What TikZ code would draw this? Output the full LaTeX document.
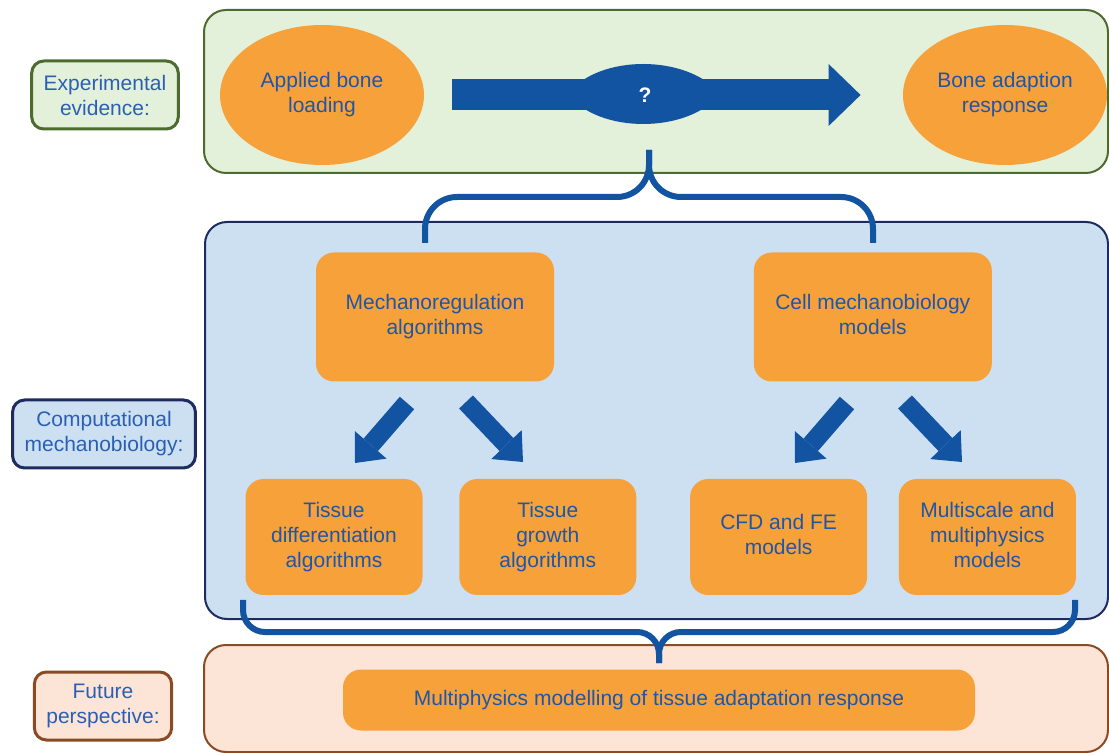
\documentclass[tikz,border=0pt]{standalone}
\usepackage{fontspec}
\setmainfont{Liberation Sans}
\usetikzlibrary{shapes.geometric, positioning, arrows.meta}
\definecolor{boxorange}{HTML}{F7A13A}
\definecolor{boxtext}{HTML}{1F56A8}
\definecolor{tagtext}{HTML}{2B5FB3}
\definecolor{arrowblue}{HTML}{1354A2}
\definecolor{expfill}{HTML}{E3F0DA}
\definecolor{expline}{HTML}{4D6B2F}
\definecolor{compfill}{HTML}{CCE0F2}
\definecolor{compline}{HTML}{1E2B5E}
\definecolor{futfill}{HTML}{FCE5D6}
\definecolor{futline}{HTML}{8A4B24}

\begin{document}
\begin{tikzpicture}[x = 0.5pt, y = -0.5pt,
        every node/.style = {font = \fontsize{10.5}{12.5}\selectfont, text = boxtext, align = center, inner sep = 0pt},
        blob/.style = {ellipse, fill = boxorange, minimum width = 102pt, minimum height = 70pt},
        algbox/.style = {rectangle, rounded corners = 9pt, fill = boxorange, minimum width = 119pt, minimum height = 64.5pt},
        subbox/.style = {rectangle, rounded corners = 9pt, fill = boxorange, minimum width = 88.5pt, minimum height = 58pt},
        tag/.style = {rectangle, rounded corners = 6pt, line width = 1.5pt, text = tagtext, inner xsep = 6pt, minimum height = 34pt},
        panel/.style = {rounded corners = 11pt, line width = 1pt},
        bigarrow/.style = {draw = arrowblue, line width = 15.5pt, -{Triangle[length = 16pt, width = 31pt, line width = 0pt]}},
        tiltarrow/.style = {draw = arrowblue, line width = 9.5pt, -{Triangle[length = 12pt, width = 21pt, line width = 0pt]}},
        curly/.style = {draw = arrowblue, line width = 3pt}]
        \useasboundingbox (0,0) rectangle (1109,753) ; %
        %
        \draw[panel, fill = expfill, draw = expline] (204,10) rectangle (1108,173) ; %
        \draw[panel, fill = compfill, draw = compline] (205,222) rectangle (1108,619) ; %
        \draw[panel, fill = futfill, draw = futline] (204,645) rectangle (1108,752) ; %
        %
        \node[tag, fill = expfill, draw = expline] (exp_tag) at (105,95) {Experimental\\evidence:} ; %
        \node[tag, fill = compfill, draw = compline] (comp_tag) at (104,434) {Computational\\mechanobiology:} ; %
        \node[tag, fill = futfill, draw = futline] (fut_tag) at (103,706) {Future\\perspective:} ; %
        %
        \node[blob] (load) at (322,95) {Applied bone\\loading} ; %
        \node[blob] (resp) at (1005,95) {Bone adaption\\response} ; %
        \node[algbox] (mech) at (435,317) {Mechanoregulation\\algorithms} ; %
        \node[algbox, right = 99.5pt of mech] (cell) {Cell mechanobiology\\models\vphantom{g}} ; %
        \node[subbox] (tdiff) at (334,537) {Tissue\\differentiation\\algorithms} ; %
        \node[subbox, right = 18pt of tdiff] (tgrow) {Tissue\\growth\\algorithms} ; %
        \node[subbox, right = 26.5pt of tgrow] (cfd) {CFD and FE\\models\vphantom{g}} ; %
        \node[subbox, right = 15.5pt of cfd] (multi) {Multiscale and\\multiphysics\\models\vphantom{g}} ; %
        \node[rectangle, rounded corners = 9pt, fill = boxorange, minimum width = 316pt, minimum height = 30.5pt] (mpmod) at (659,700) {Multiphysics modelling of tissue adaptation response} ; %
        %
        \draw[bigarrow, shorten < = 14pt, shorten > = 21pt] (load.east) -- (resp.west) ; %
        \fill[arrowblue] (568,94) .. controls (598,54) and (688,54) .. (720,94) .. controls (688,134) and (598,134) .. (568,94) -- cycle ; %
        \node[text = white, font = \fontsize{10.5}{12.5}\selectfont\bfseries] (q) at (645,95) {?} ; %
        %
        \coordinate (m_l0) at (407,403) ; %
        \coordinate (m_l1) at (355,463) ; %
        \coordinate (m_r0) at (466,402) ; %
        \coordinate (m_r1) at (523,462) ; %
        \coordinate (c_l0) at (847,403) ; %
        \coordinate (c_l1) at (795,463) ; %
        \coordinate (c_r0) at (905,402) ; %
        \coordinate (c_r1) at (962,462) ; %
        \draw[tiltarrow] (m_l0) -- (m_l1) ; %
        \draw[tiltarrow] (m_r0) -- (m_r1) ; %
        \draw[tiltarrow] (c_l0) -- (c_l1) ; %
        \draw[tiltarrow] (c_r0) -- (c_r1) ; %
        %
        \draw[curly, rounded corners = 16pt] (425,243) -- (425,197) -- (649,197) -- (649,150) ; %
        \draw[curly, rounded corners = 16pt] (873,243) -- (873,197) -- (649,197) -- (649,150) ; %
        \draw[curly, rounded corners = 11pt] (243,600) -- (243,632) -- (659,632) -- (659,663) ; %
        \draw[curly, rounded corners = 11pt] (1075,600) -- (1075,632) -- (659,632) -- (659,663) ; %
\end{tikzpicture}
\end{document}
